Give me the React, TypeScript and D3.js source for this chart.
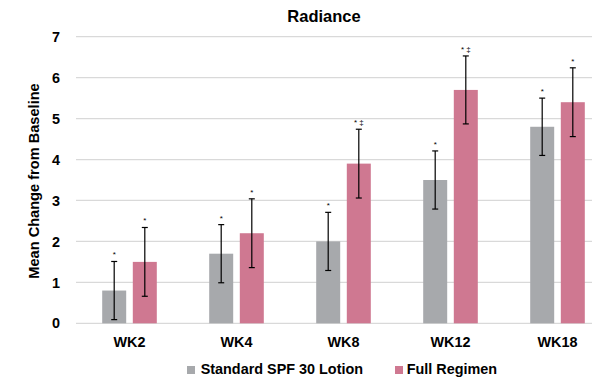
import React from "react";
import * as d3 from "d3";

const categories = ["WK2", "WK4", "WK8", "WK12", "WK18"];
const seriesNames = ["Standard SPF 30 Lotion", "Full Regimen"];
const standardValues = [0.8, 1.7, 2.0, 3.5, 4.8];
const standardErrors = [0.71, 0.71, 0.71, 0.71, 0.7];
const standardMarks = ["*", "*", "*", "*", "*"];
const regimenValues = [1.5, 2.2, 3.9, 5.7, 5.4];
const regimenErrors = [0.84, 0.84, 0.84, 0.83, 0.84];
const regimenMarks = ["*", "*", "* \u2021", "* \u2021", "*"];
const yTicks = [0, 1, 2, 3, 4, 5, 6, 7];
const colors = ["#A7A9AC", "#CF7891"];

const W = 592;
const H = 380;
const FONT = "'Liberation Sans', Arial, sans-serif";

export default function App() {
  const x0 = d3.scaleBand<string>().domain(categories).range([76, 611]).paddingInner(0).paddingOuter(0);
  const bw = x0.bandwidth();
  const x1 = d3
    .scaleBand<string>()
    .domain(seriesNames)
    .range([bw / 2 - 27.3, bw / 2 + 27.3])
    .paddingInner(0.216)
    .paddingOuter(0);
  const y = d3.scaleLinear().domain([0, 7]).range([323.3, 36.7]);

  const series = [
    { name: seriesNames[0], values: standardValues, errors: standardErrors, marks: standardMarks, color: colors[0] },
    { name: seriesNames[1], values: regimenValues, errors: regimenErrors, marks: regimenMarks, color: colors[1] },
  ];

  return (
    <svg width={W} height={H} style={{ position: "absolute", left: 0, top: 0, background: "#fff" }} fontFamily={FONT}>
      <rect x={0} y={0} width={W} height={H} fill="#fff" />
      <text x={324} y={21.5} textAnchor="middle" fontSize={16.5} fontWeight="bold" fill="#000">
        Radiance
      </text>
      {yTicks.map((t) => (
        <g key={t}>
          <line x1={76} x2={W} y1={y(t)} y2={y(t)} stroke="#D9D9D9" strokeWidth={1.2} />
          <text x={60} y={y(t)} dy="0.36em" textAnchor="end" fontSize={14.4} fontWeight="bold" fill="#000">
            {t}
          </text>
        </g>
      ))}
      <text
        transform={`translate(38.5, 181) rotate(-90)`}
        textAnchor="middle"
        fontSize={14.6}
        fontWeight="bold"
        fill="#000"
      >
        Mean Change from Baseline
      </text>
      {categories.map((c, i) => (
        <g key={c} transform={`translate(${x0(c)},0)`}>
          {series.map((s) => {
            const bx = x1(s.name)!;
            const cx = bx + x1.bandwidth() / 2;
            const v = s.values[i];
            const e = s.errors[i];
            const top = y(v + e);
            const bot = y(v - e);
            return (
              <g key={s.name}>
                <rect x={bx} y={y(v)} width={x1.bandwidth()} height={y(0) - y(v)} fill={s.color} />
                <line x1={cx} x2={cx} y1={top} y2={bot} stroke="#000" strokeWidth={1.2} />
                <line x1={cx - 3} x2={cx + 3} y1={top} y2={top} stroke="#000" strokeWidth={1.2} />
                <line x1={cx - 3} x2={cx + 3} y1={bot} y2={bot} stroke="#000" strokeWidth={1.2} />
                <text x={cx} y={top - 4} textAnchor="middle" fontSize={8} fill="#000">
                  {s.marks[i]}
                </text>
              </g>
            );
          })}
          <text x={bw / 2} y={346.7} textAnchor="middle" fontSize={14.4} fontWeight="bold" fill="#000">
            {c}
          </text>
        </g>
      ))}
      <g>
        <rect x={187} y={366} width={8} height={8} fill={colors[0]} />
        <text x={200.7} y={374} fontSize={14.4} fontWeight="bold" fill="#000">
          {seriesNames[0]}
        </text>
        <rect x={395} y={366} width={8} height={8} fill={colors[1]} />
        <text x={406.7} y={374} fontSize={14.4} fontWeight="bold" fill="#000">
          {seriesNames[1]}
        </text>
      </g>
    </svg>
  );
}
